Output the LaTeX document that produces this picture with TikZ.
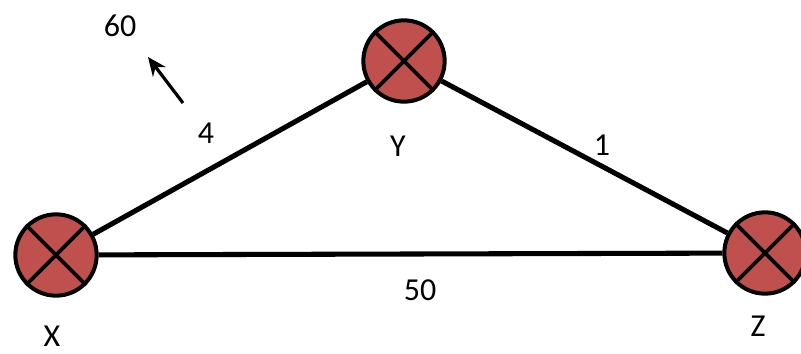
\documentclass[tikz,border=0pt]{standalone}
\usepackage{fontspec}
\setmainfont{Carlito}
\usetikzlibrary{arrows.meta,positioning}

\definecolor{nodered}{RGB}{192,80,77}

\begin{document}
\begin{tikzpicture}[x=0.75pt,y=-0.75pt,
every node/.style={font=\fontsize{24}{28}\selectfont},
station/.style={circle,draw,line width=3pt,fill=nodered,minimum size=61pt,inner sep=0pt},
link/.style={line width=3.8pt},
cross/.style={line width=2.8pt}]
\useasboundingbox (0,0) rectangle (801,354);
\node[station] (X) at (56,255) {};
\node[station] (Y) at (404,61) {};
\node[station] (Z) at (765,253) {};
\node (lx) at (52,336) {X};
\node (ly) at (398,146) {Y};
\node (lz) at (758,326) {Z};
\node (w4) at (206,133) {4};
\node (w1) at (602,145) {1};
\node (w50) at (420,290) {50};
\node (w60) at (120,26) {60};
\coordinate (a0) at (183,103);
\coordinate (a1) at (148,57);
\draw[link] (X)--(Y)--(Z);
\draw[link] (X)--(Z);
\foreach \n in {X,Y,Z}{
  \draw[cross] (\n.north west)--(\n.south east);
  \draw[cross] (\n.north east)--(\n.south west);
}
\draw[line width=2.4pt,-{Stealth[length=14pt,width=12pt]}] (a0)--(a1);
\end{tikzpicture}
\end{document}
